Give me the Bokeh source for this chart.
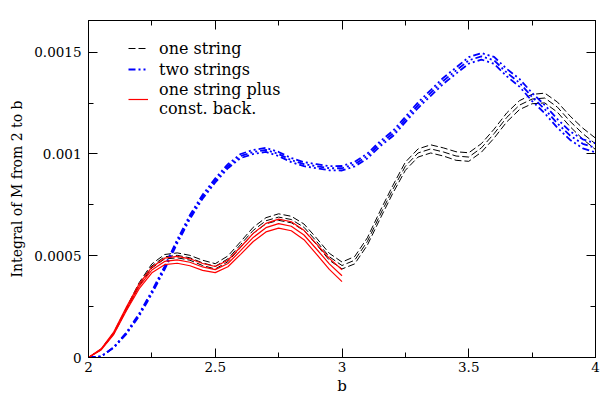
from bokeh.plotting import figure
from bokeh.models import (ColumnDataSource, Range1d, LinearAxis, FixedTicker,
                          CustomJSTickFormatter, Legend, LegendItem)
from bokeh.embed import file_html
from bokeh.resources import INLINE

# ---------------- data ----------------
b = [2.00, 2.05, 2.10, 2.15, 2.20, 2.25, 2.30, 2.35, 2.40, 2.45,
     2.50, 2.55, 2.60, 2.65, 2.70, 2.75, 2.80, 2.85, 2.90, 2.95,
     3.00, 3.05, 3.10, 3.15, 3.20, 3.25, 3.30, 3.35, 3.40, 3.45,
     3.50, 3.55, 3.60, 3.65, 3.70, 3.75, 3.80, 3.85, 3.90, 3.95, 4.00]

one_string = [0.0, 0.00004, 0.00012, 0.00024, 0.00036, 0.00045, 0.000495, 0.000502, 0.00049, 0.000465,
              0.000448, 0.000485, 0.000555, 0.000625, 0.000672, 0.00069, 0.000678, 0.00064, 0.00057, 0.000495,
              0.000452, 0.000478, 0.00057, 0.0007, 0.000825, 0.00094, 0.001005, 0.001025, 0.00101, 0.00099,
              0.000985, 0.00103, 0.0011, 0.00118, 0.00124, 0.00127, 0.001275, 0.00123, 0.00116, 0.0011, 0.00105]
one_string_err = [0.0, 0.000002, 0.000004, 0.000006, 0.000008, 0.00001, 0.000011, 0.000012, 0.000012, 0.000013,
                  0.000013, 0.000014, 0.000014, 0.000015, 0.000015, 0.000016, 0.000016, 0.000016, 0.000016, 0.000017,
                  0.000017, 0.000018, 0.000018, 0.000019, 0.000019, 0.00002, 0.00002, 0.00002, 0.00002, 0.000021,
                  0.000021, 0.000021, 0.000022, 0.000022, 0.000022, 0.000023, 0.000024, 0.000025, 0.000026, 0.000027, 0.000028]

two_strings = [0.0, 0.000005, 0.00005, 0.00012, 0.00021, 0.00032, 0.00044, 0.00057, 0.00069, 0.00079,
               0.00087, 0.00094, 0.00099, 0.00101, 0.00102, 0.001, 0.00097, 0.00095, 0.00094, 0.00093,
               0.00093, 0.00095, 0.00099, 0.00105, 0.0011, 0.00117, 0.00124, 0.0013, 0.00136, 0.00141,
               0.00146, 0.00148, 0.00146, 0.0014, 0.00135, 0.00128, 0.00122, 0.00115, 0.00109, 0.00105, 0.00103]
two_strings_err = [0.0, 0.0, 0.000002, 0.000004, 0.000006, 0.000007, 0.000008, 0.000009, 0.00001, 0.00001,
                   0.00001, 0.00001, 0.00001, 0.00001, 0.00001, 0.00001, 0.00001, 0.00001, 0.00001, 0.00001,
                   0.000011, 0.000011, 0.000012, 0.000012, 0.000013, 0.000013, 0.000014, 0.000014, 0.000015, 0.000015,
                   0.000016, 0.000016, 0.000017, 0.000018, 0.000019, 0.00002, 0.00002, 0.000021, 0.000021, 0.000022, 0.000022]

b_const = [2.00, 2.05, 2.10, 2.15, 2.20, 2.25, 2.30, 2.35, 2.40, 2.45,
           2.50, 2.55, 2.60, 2.65, 2.70, 2.75, 2.80, 2.85, 2.90, 2.95, 3.00]
string_const = [0.0, 0.00004, 0.00012, 0.00024, 0.00035, 0.00043, 0.000472, 0.00048, 0.000468, 0.000445,
                0.000432, 0.000462, 0.000525, 0.00059, 0.000638, 0.000658, 0.000645, 0.000602, 0.000532, 0.00046,
                0.000402]
string_const_err = [0.0, 0.000003, 0.000006, 0.000009, 0.000012, 0.000014, 0.000016, 0.000017, 0.000017, 0.000017,
                    0.000015, 0.000016, 0.000018, 0.00002, 0.000021, 0.000022, 0.000022, 0.000023, 0.000025, 0.000027,
                    0.000029]

x_ticks = [2, 2.5, 3, 3.5, 4]
x_minor = [2.25, 2.75, 3.25, 3.75]
y_ticks = [0, 0.0005, 0.001, 0.0015]
y_minor = [0.00025, 0.00075, 0.00125]

labels = ["one string", "two strings", "one string plus\nconst. back."]

FONT = "DejaVu Serif"

# ---------------- figure ----------------
p = figure(width=603, height=397, output_backend="svg", toolbar_location=None,
           x_range=Range1d(2, 4), y_range=Range1d(0, 0.001656),
           min_border_left=88, min_border_right=8, min_border_top=20, min_border_bottom=40,
           x_axis_label="b", y_axis_label="Integral of M from 2 to b")
p.grid.visible = False
p.outline_line_color = "black"
p.background_fill_color = "white"
p.border_fill_color = "white"

fmt = CustomJSTickFormatter(code="return tick.toString();")
blank = CustomJSTickFormatter(code="return '';")


def style_axis(ax, ticks, minor, show_labels):
    ax.ticker = FixedTicker(ticks=ticks, minor_ticks=minor)
    ax.major_tick_in = 9
    ax.major_tick_out = 0
    ax.minor_tick_in = 5
    ax.minor_tick_out = 0
    ax.axis_line_color = "black"
    ax.major_tick_line_color = "black"
    ax.minor_tick_line_color = "black"
    ax.major_label_text_font = FONT
    ax.major_label_text_color = "black"
    ax.major_label_text_font_size = "13.5px"
    ax.axis_label_text_font = FONT
    ax.axis_label_text_font_style = "normal"
    ax.axis_label_text_color = "black"
    ax.axis_label_text_font_size = "14px"
    if show_labels:
        ax.formatter = fmt
    else:
        ax.formatter = blank
        ax.major_label_standoff = 0


style_axis(p.xaxis[0], x_ticks, x_minor, True)
style_axis(p.yaxis[0], y_ticks, y_minor, True)
p.xaxis[0].major_label_standoff = 4
p.xaxis[0].axis_label_standoff = 2
p.xaxis[0].axis_label_text_font_size = "15px"
p.yaxis[0].major_label_standoff = 7
p.yaxis[0].axis_label_standoff = 6

top_ax = LinearAxis()
right_ax = LinearAxis()
style_axis(top_ax, x_ticks, x_minor, False)
style_axis(right_ax, y_ticks, y_minor, False)
p.add_layout(top_ax, "above")
p.add_layout(right_ax, "right")


def band(x, mid, err):
    up = [m + e for m, e in zip(mid, err)]
    lo = [m - e for m, e in zip(mid, err)]
    return [ColumnDataSource(dict(x=x, y=yy)) for yy in (up, mid, lo)]


black_r = []
for src in band(b, one_string, one_string_err):
    black_r.append(p.line("x", "y", source=src, line_color="black", line_width=1,
                          line_dash="7 3"))

blue_r = []
for src in band(b, two_strings, two_strings_err):
    blue_r.append(p.line("x", "y", source=src, line_color="#0000ff", line_width=1.8,
                         line_dash="7 3 2 3 2 3"))

red_r = []
for src in band(b_const, string_const, string_const_err):
    red_r.append(p.line("x", "y", source=src, line_color="#ff0000", line_width=1.2))

legend = Legend(items=[LegendItem(label=labels[0], renderers=[black_r[1]]),
                       LegendItem(label=labels[1], renderers=[blue_r[1]]),
                       LegendItem(label=labels[2], renderers=[red_r[1]])],
                location=(40, 239))
legend.border_line_color = None
legend.background_fill_alpha = 0
legend.label_text_font = FONT
legend.label_text_font_size = "16px"
legend.label_text_color = "black"
legend.glyph_width = 20
legend.label_standoff = 11
legend.spacing = 1
legend.padding = 0
legend.margin = 0
p.add_layout(legend)

open("out.html", "w").write(file_html(p, INLINE))
